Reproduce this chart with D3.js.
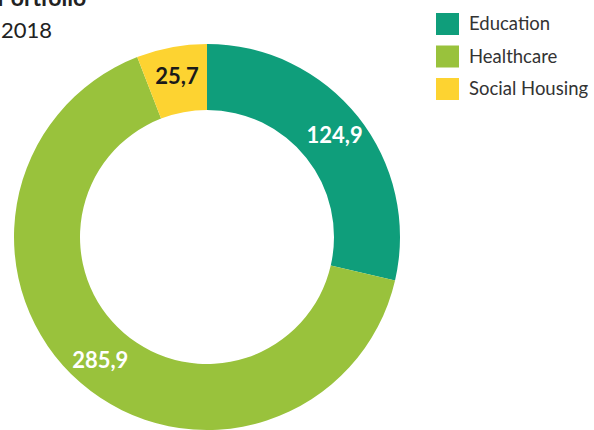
<!DOCTYPE html>
<html>

<head>
    <meta charset="utf-8">
    <style>
        body {
            margin: 0;
            background: white;
        }

        svg {
            display: block;
            font-family: Lato, 'Noto Sans', sans-serif;
        }
    </style>
</head>

<body>
    <svg width="594" height="430"></svg>
</body>

<script src="https://d3js.org/d3.v7.min.js"></script>

<script>
    // chart values
    let categories = ["Education", "Healthcare", "Social Housing"]
    let values = [124.9, 285.9, 25.7]
    let colors = ["#0f9e7b", "#99c23c", "#fdd331"]
    let labelColors = ["white", "white", "#1a1a1a"]

    let width = 594
    let height = 430
    let cx = 207
    let cy = 237
    let outerR = 193
    let innerR = 127

    let svg = d3.select("svg")

    // numbers use a decimal comma
    let fmt = d3.formatLocale({ decimal: ",", thousands: ".", grouping: [3], currency: ["", ""] }).format(".1f")

    let data = categories.map((c, i) => ({ name: c, value: values[i], color: colors[i], label: labelColors[i] }))

    let pie = d3.pie()
        .value(d => d.value)
        .sort(null)

    let arc = d3.arc()
        .innerRadius(innerR)
        .outerRadius(outerR)

    // labels sit a bit further out than the ring's middle
    let labelArc = d3.arc()
        .innerRadius(163)
        .outerRadius(163)

    let g = svg.append("g")
        .attr("transform", `translate(${cx},${cy})`)

    let arcs = pie(data)

    g.selectAll(".slice")
        .data(arcs)
        .join("path")
        .attr("class", "slice")
        .attr("d", arc)
        .style("fill", d => d.data.color)

    g.selectAll(".val")
        .data(arcs)
        .join("text")
        .attr("class", "val")
        .attr("x", d => labelArc.centroid(d)[0])
        .attr("y", d => labelArc.centroid(d)[1])
        .attr("text-anchor", "middle")
        .attr("dy", "0.35em")
        .style("font-size", "22px")
        .style("font-weight", "bold")
        .style("fill", d => d.data.label)
        .text(d => fmt(d.data.value))

    // title (cut at the top edge, as in the original)
    svg.append("text")
        .attr("x", -3)
        .attr("y", 6)
        .style("font-size", "23px")
        .style("font-weight", "bold")
        .style("fill", "#222")
        .text("Portfolio")

    svg.append("text")
        .attr("x", 1)
        .attr("y", 38)
        .style("font-size", "22px")
        .style("fill", "#222")
        .text("2018")

    // legend
    let legend = svg.selectAll(".legend")
        .data(data)
        .join("g")
        .attr("class", "legend")
        .attr("transform", (d, i) => `translate(436, ${13 + i * 32.5})`)

    legend.append("rect")
        .attr("width", 23)
        .attr("height", 22)
        .style("fill", d => d.color)

    legend.append("text")
        .attr("x", 33)
        .attr("y", 11)
        .attr("dy", "0.35em")
        .style("font-size", "18.5px")
        .style("fill", "#333")
        .text(d => d.name)
</script>

</html>
